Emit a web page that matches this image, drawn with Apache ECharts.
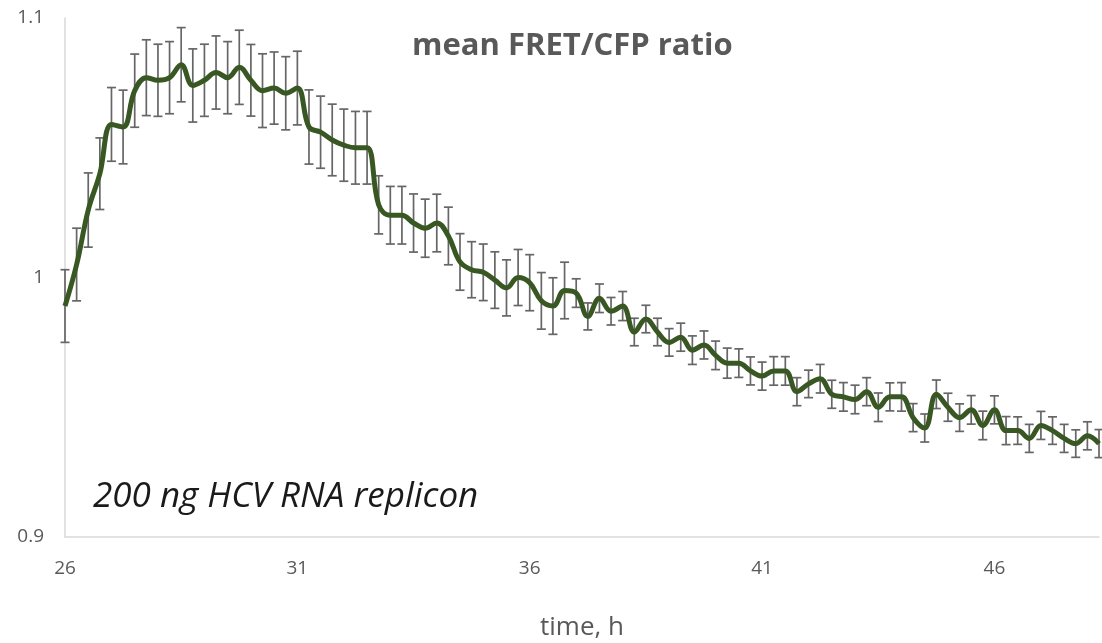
<!DOCTYPE html>
<html>
<head>
<meta charset="utf-8">
<script src="https://cdn.jsdelivr.net/npm/echarts@6/dist/echarts.min.js"></script>
<style>
html,body{margin:0;padding:0;background:#fff;}
#chart{width:1102px;height:643px;}
</style>
</head>
<body>
<div id="chart"></div>
<script>
// time points (h), one every 15 min
const times = [
  26, 26.25, 26.5, 26.75, 27, 27.25, 27.5, 27.75, 28, 28.25,
  28.5, 28.75, 29, 29.25, 29.5, 29.75, 30, 30.25, 30.5, 30.75,
  31, 31.25, 31.5, 31.75, 32, 32.25, 32.5, 32.75, 33, 33.25,
  33.5, 33.75, 34, 34.25, 34.5, 34.75, 35, 35.25, 35.5, 35.75,
  36, 36.25, 36.5, 36.75, 37, 37.25, 37.5, 37.75, 38, 38.25,
  38.5, 38.75, 39, 39.25, 39.5, 39.75, 40, 40.25, 40.5, 40.75,
  41, 41.25, 41.5, 41.75, 42, 42.25, 42.5, 42.75, 43, 43.25,
  43.5, 43.75, 44, 44.25, 44.5, 44.75, 45, 45.25, 45.5, 45.75,
  46, 46.25, 46.5, 46.75, 47, 47.25, 47.5, 47.75, 48, 48.25
];
// mean FRET/CFP ratio
const ratio = [
  0.989, 1.005, 1.026, 1.040, 1.059, 1.058, 1.072, 1.077, 1.076, 1.077,
  1.082, 1.074, 1.076, 1.079, 1.077, 1.081, 1.076, 1.072, 1.073, 1.071,
  1.073, 1.058, 1.056, 1.053, 1.051, 1.050, 1.050, 1.028, 1.024, 1.024,
  1.021, 1.019, 1.021, 1.016, 1.006, 1.003, 1.002, 0.999, 0.996, 1.000,
  0.998, 0.991, 0.989, 0.995, 0.994, 0.985, 0.992, 0.987, 0.989, 0.979,
  0.984, 0.979, 0.975, 0.977, 0.972, 0.974, 0.970, 0.967, 0.967, 0.964,
  0.962, 0.964, 0.964, 0.956, 0.959, 0.961, 0.955, 0.954, 0.953, 0.956,
  0.950, 0.954, 0.954, 0.946, 0.942, 0.955, 0.950, 0.946, 0.949, 0.943,
  0.949, 0.941, 0.941, 0.938, 0.943, 0.941, 0.938, 0.936, 0.939, 0.936
];
// error (+/-)
const errors = [
  0.014, 0.014, 0.0143, 0.0138, 0.0142, 0.0142, 0.0141, 0.0146, 0.0139, 0.0139,
  0.0143, 0.0141, 0.0139, 0.0141, 0.0139, 0.0143, 0.0138, 0.0142, 0.0139, 0.0141,
  0.0142, 0.0143, 0.0139, 0.0138, 0.0139, 0.014, 0.014, 0.0112, 0.0111, 0.0111,
  0.0112, 0.0112, 0.0111, 0.0111, 0.0109, 0.0108, 0.0109, 0.0109, 0.0108, 0.0108,
  0.0108, 0.0109, 0.0109, 0.0109, 0.0055, 0.0052, 0.0055, 0.0053, 0.0056, 0.0053,
  0.0053, 0.0053, 0.0053, 0.0054, 0.0055, 0.0054, 0.0055, 0.0058, 0.0055, 0.0054,
  0.0054, 0.0055, 0.0055, 0.0054, 0.0053, 0.0055, 0.0054, 0.0055, 0.0055, 0.0054,
  0.0055, 0.0054, 0.0055, 0.0054, 0.0054, 0.0055, 0.0054, 0.0053, 0.0055, 0.0055,
  0.0054, 0.0054, 0.0053, 0.0054, 0.0054, 0.0053, 0.0054, 0.0053, 0.0054, 0.0054
];
const yTicks = [0.9, 1, 1.1];
const titleText = 'mean FRET/CFP ratio';
const noteText = '200 ng HCV RNA replicon';
const xName = 'time, h';

const categories = times.map(t => String(t));
const errData = ratio.map((v, i) => [i, v - errors[i], v + errors[i]]);

const chart = echarts.init(document.getElementById('chart'), null, {renderer: 'canvas'});
chart.setOption({
  animation: false,
  backgroundColor: '#ffffff',
  grid: {left: 65, right: 3, top: 18, bottom: 106, containLabel: false, outerBoundsMode: 'none'},
  graphic: [
    {type: 'text', left: 412, top: 31, z: 10,
      style: {text: titleText, fill: '#595959', font: 'bold 31px "Open Sans"'}},
    {type: 'text', left: 93, top: 480, z: 10,
      style: {text: noteText, fill: '#1a1a1a', font: 'italic 35px "Open Sans"'}}
  ],
  xAxis: {
    type: 'category',
    data: categories,
    boundaryGap: false,
    name: xName,
    nameLocation: 'middle',
    nameGap: 78,
    nameTextStyle: {color: '#595959', fontSize: 26, fontFamily: 'Open Sans'},
    axisLine: {show: true, lineStyle: {color: '#d9d9d9', width: 1.5}},
    axisTick: {show: false},
    axisLabel: {interval: 19, color: '#595959', fontSize: 19, fontFamily: 'Open Sans', margin: 22},
    splitLine: {show: false}
  },
  yAxis: {
    type: 'value',
    min: yTicks[0],
    max: yTicks[yTicks.length - 1],
    interval: 0.1,
    axisLine: {show: true, lineStyle: {color: '#d9d9d9', width: 1.5}},
    axisTick: {show: false},
    axisLabel: {color: '#595959', fontSize: 19, fontFamily: 'Open Sans', margin: 21,
      formatter: v => String(Math.round(v * 10) / 10)},
    splitLine: {show: false}
  },
  series: [
    {
      type: 'custom',
      z: 1,
      silent: true,
      renderItem: function (params, api) {
        const i = api.value(0);
        const lo = api.coord([i, api.value(1)]);
        const hi = api.coord([i, api.value(2)]);
        const hw = 4.5;
        const st = {stroke: '#666666', lineWidth: 1.7, fill: null};
        return {
          type: 'group',
          children: [
            {type: 'line', shape: {x1: lo[0], y1: lo[1], x2: hi[0], y2: hi[1]}, style: st},
            {type: 'line', shape: {x1: lo[0] - hw, y1: lo[1], x2: lo[0] + hw, y2: lo[1]}, style: st},
            {type: 'line', shape: {x1: hi[0] - hw, y1: hi[1], x2: hi[0] + hw, y2: hi[1]}, style: st}
          ]
        };
      },
      encode: {x: 0, y: [1, 2]},
      data: errData
    },
    {
      type: 'line',
      z: 5,
      data: ratio,
      smooth: 0.4,
      showSymbol: false,
      symbol: 'none',
      lineStyle: {color: '#385723', width: 5}
    }
  ]
});
</script>
</body>
</html>
